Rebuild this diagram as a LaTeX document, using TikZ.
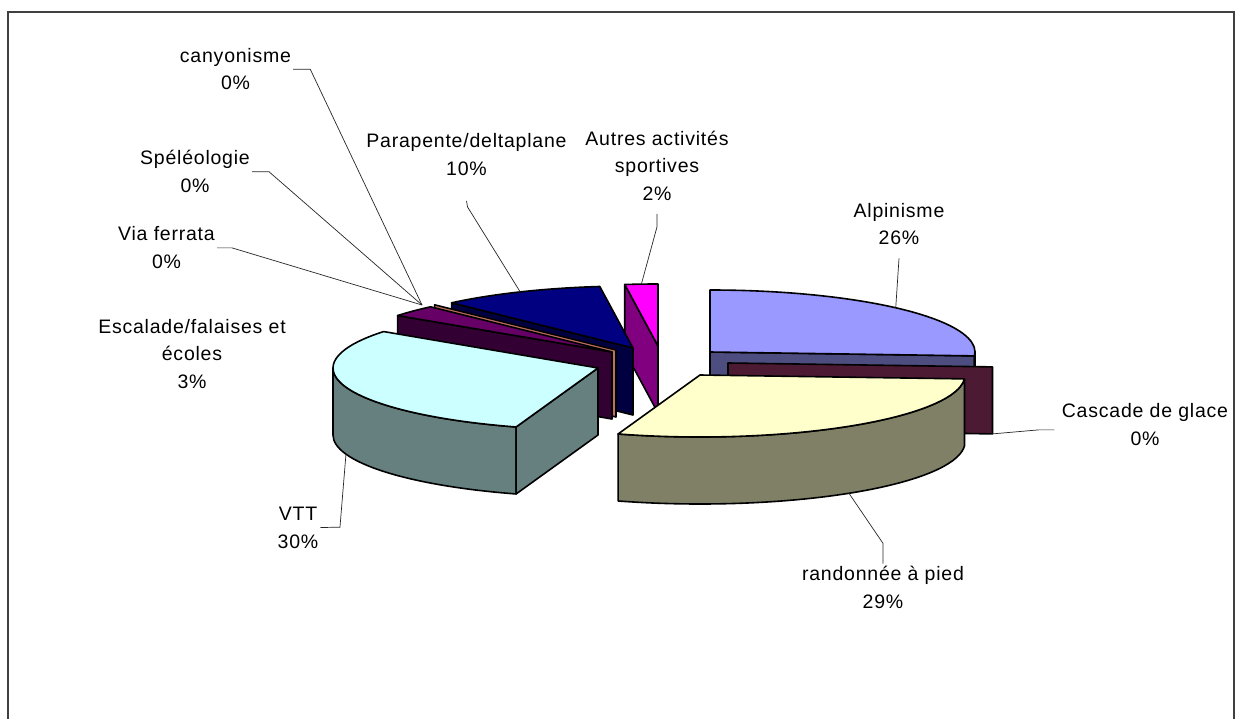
\documentclass[tikz,border=0pt]{standalone}
\usepackage{fontspec}
\setmainfont{Liberation Sans}[LetterSpace=4]
\definecolor{alpTop}{HTML}{9999FF}
\definecolor{alpSide}{HTML}{4D4D80}
\definecolor{casSide}{HTML}{4D1A33}
\definecolor{ranTop}{HTML}{FFFFCC}
\definecolor{ranSide}{HTML}{808066}
\definecolor{vttTop}{HTML}{CCFFFF}
\definecolor{vttSide}{HTML}{668080}
\definecolor{escTop}{HTML}{660066}
\definecolor{escSide}{HTML}{330033}
\definecolor{viaSide}{HTML}{C07060}
\definecolor{parTop}{HTML}{000080}
\definecolor{parSide}{HTML}{000040}
\definecolor{autTop}{HTML}{FF00FF}
\definecolor{autSide}{HTML}{800080}

\begin{document}
\begin{tikzpicture}[x=1pt,y=-1pt,
  face/.style={draw=black,line width=1.6pt,line join=round},
  leader/.style={draw=black!85,line width=0.7pt},
  lbl/.style={align=center,anchor=base,inner sep=2pt,font=\fontsize{19.5}{27.7}\selectfont},
  rim/.style={x radius=265,y radius=62}]
	\useasboundingbox (0,0) rectangle (1236,719);
	\draw[line width=1.5pt,black!75] (8,730) -- (8,12) -- (1234,12) -- (1234,730);

	% apex of every slice
	\coordinate (alp) at (710,352);
	\coordinate (cas) at (728,363);
	\coordinate (ran) at (700,375);
	\coordinate (vtt) at (598,368);
	\coordinate (esc) at (612,352);
	\coordinate (zero) at (616,350);
	\coordinate (par) at (633,348);
	\coordinate (aut) at (658,346);

	% Autres activites sportives
	\filldraw[face,fill=autSide] (aut) -- ++(262.8:265 and 62) -- ++(0,67) -- ++(82.8:265 and 62) -- cycle;
	\filldraw[face,fill=autTop] (aut) -- ++(262.8:265 and 62) arc[rim,start angle=262.8,end angle=270] -- cycle;
	% Parapente
	\filldraw[face,fill=parSide] (par) -- ++(226.8:265 and 62) -- ++(0,67) -- ++(46.8:265 and 62) -- cycle;
	\filldraw[face,fill=parTop] (par) -- ++(226.8:265 and 62) arc[rim,start angle=226.8,end angle=262.8] -- cycle;
	% Alpinisme
	\filldraw[face,fill=alpSide] (alp) -- ++(3.6:265 and 62) -- ++(0,67) -- ++(183.6:265 and 62) -- cycle;
	\filldraw[face,fill=alpSide] (alp) ++(0:265 and 62) arc[rim,start angle=0,end angle=3.6] -- ++(0,67) arc[rim,start angle=3.6,end angle=0] -- cycle;
	\filldraw[face,fill=alpTop] (alp) -- ++(270:265 and 62) arc[rim,start angle=270,end angle=363.6] -- cycle;
	% the 0% slices
	\filldraw[face,fill=viaSide] (zero) -- ++(226.8:265 and 62) -- ++(0,67) -- ++(46.8:265 and 62) -- cycle;
	% Escalade
	\filldraw[face,fill=escSide] (esc) -- ++(216:265 and 62) -- ++(0,67) -- ++(36:265 and 62) -- cycle;
	\filldraw[face,fill=escTop] (esc) -- ++(216:265 and 62) arc[rim,start angle=216,end angle=226.8] -- cycle;
	% Cascade de glace
	\filldraw[face,fill=casSide] (cas) -- ++(3.6:265 and 62) -- ++(0,67) -- ++(183.6:265 and 62) -- cycle;
	% VTT
	\filldraw[face,fill=vttSide] (vtt) ++(108:265 and 62) arc[rim,start angle=108,end angle=180] -- ++(0,67) arc[rim,start angle=180,end angle=108] -- cycle;
	\filldraw[face,fill=vttSide] (vtt) -- ++(108:265 and 62) -- ++(0,67) -- ++(288:265 and 62) -- cycle;
	\filldraw[face,fill=vttTop] (vtt) -- ++(108:265 and 62) arc[rim,start angle=108,end angle=216] -- cycle;
	% randonnee
	\filldraw[face,fill=ranSide] (ran) ++(3.6:265 and 62) arc[rim,start angle=3.6,end angle=108] -- ++(0,67) arc[rim,start angle=108,end angle=3.6] -- cycle;
	\filldraw[face,fill=ranTop] (ran) -- ++(3.6:265 and 62) arc[rim,start angle=3.6,end angle=108] -- cycle;

	% labels (base = last line)
	\node[lbl] (lcan) at (235.5,90) {canyonisme\\0\%};
	\node[lbl] (lspe) at (195,192.7) {Spéléologie\\0\%};
	\node[lbl] (lvia) at (166.5,268.7) {Via ferrata\\0\%};
	\node[lbl] (lesc) at (192,388.4) {Escalade/falaises et\\écoles\\3\%};
	\node[lbl] (lpar) at (466.5,175.5) {Parapente/deltaplane\\10\%};
	\node[lbl] (laut) at (657,200.5) {Autres activités\\sportives\\2\%};
	\node[lbl] (lalp) at (899,245) {Alpinisme\\26\%};
	\node[lbl] (lcas) at (1145,445.5) {Cascade de glace\\0\%};
	\node[lbl] (lvtt) at (298,548) {VTT\\30\%};
	\node[lbl] (lran) at (883,608) {randonnée à pied\\29\%};

	% leader lines
	\coordinate (zpt) at (422,305);
	\path (par) ++(244.8:265 and 62) coordinate (parTip);
	\path (aut) ++(266.4:265 and 62) coordinate (autTip);
	\path (alp) ++(314.5:265 and 62) coordinate (alpTip);
	\path (cas) ++(3.6:265 and 62) ++(0,67) coordinate (casTip);
	\path (vtt) ++(162:265 and 62) ++(0,67) coordinate (vttTip);
	\path (ran) ++(55.8:265 and 62) ++(0,67) coordinate (ranTip);
	\draw[leader] (lcan.east) -- ++(17,0) -- (zpt);
	\draw[leader] (lspe.east) -- ++(17,0) -- (zpt);
	\draw[leader] (lvia.east) -- ++(15,0) -- (zpt);
	\draw[leader] (lpar.south) ++(0,23) -- ++(1,6) -- (parTip);
	\draw[leader] (laut.south) ++(0,11) -- ++(0,13) -- (autTip);
	\draw[leader] (lalp.south) ++(0,11) -- (alpTip);
	\draw[leader] (casTip) -- ++(46,-4) -- ++(16,0);
	\draw[leader] (vttTip) -- ++(-6,73) -- (lvtt.east);
	\draw[leader] (ranTip) -- ++(34,50) -- (lran.north);
\end{tikzpicture}
\end{document}
